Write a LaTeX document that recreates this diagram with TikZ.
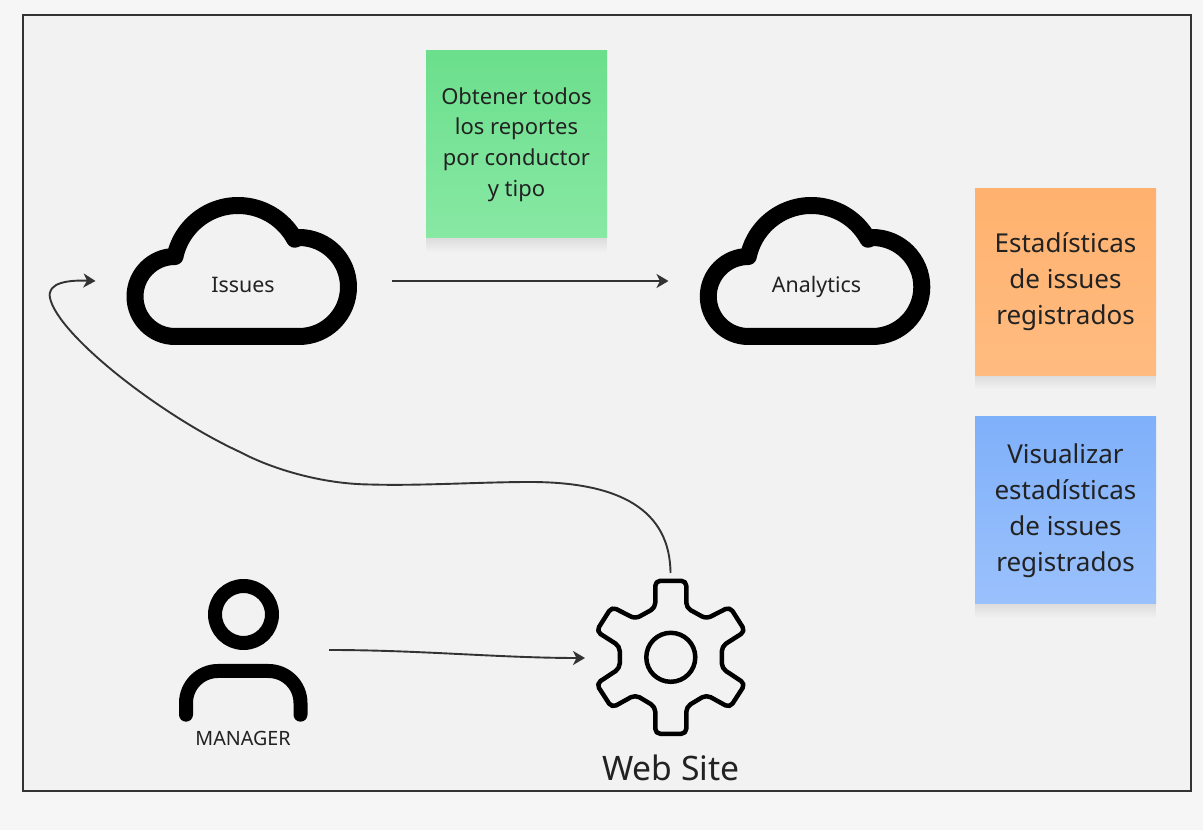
\documentclass[tikz,border=0pt]{standalone}
\usepackage{fontspec}
\setmainfont{Noto Sans}
\usetikzlibrary{arrows.meta,shadows}

\definecolor{pagebg}{HTML}{F6F6F6}
\definecolor{boardbg}{HTML}{F2F2F2}
\definecolor{inkgray}{HTML}{333333}
\definecolor{textgray}{HTML}{222222}
\definecolor{noteGreenTop}{HTML}{6BDF8C}
\definecolor{noteGreenBot}{HTML}{88E8A4}
\definecolor{noteOrangeTop}{HTML}{FFB26F}
\definecolor{noteOrangeBot}{HTML}{FFBB80}
\definecolor{noteBlueTop}{HTML}{7FB0FA}
\definecolor{noteBlueBot}{HTML}{9BC1FC}

\tikzset{
  softlayer/.style={general shadow={shadow yshift=-#1pt, fill=black, fill opacity=.012}},
  softshadow/.style={softlayer=14, softlayer=12, softlayer=10, softlayer=8,
    softlayer=6, softlayer=4, softlayer=2},
  sticky/.style={rectangle, minimum width=181pt, minimum height=187pt, inner sep=0pt,
    align=center, text=textgray, softshadow},
  flow/.style={draw=inkgray, line width=1.9pt, -{Stealth[length=12pt,width=14pt,inset=3.5pt]}},
  iconline/.style={draw=black, line join=round},
  label/.style={text=textgray, inner sep=0pt},
  cloudicon/.pic={
    \draw[iconline, line width=17pt] (-67,-65.5) arc (270:90:40)
      arc (167.9:28.5:64.5) -- (57,33.5) arc (90:-90:49.5) -- cycle;
  }
}

\begin{document}
\begin{tikzpicture}[x=1pt, y=1pt]
  \useasboundingbox (0,0) rectangle (1203,830);
  \fill[pagebg] (0,0) rectangle (1203,830);
  \draw[fill=boardbg, draw=inkgray, line width=2pt] (23,39) rectangle (1191,815);

  % clouds
  \pic at (242,559) {cloudicon};
  \pic at (815.3,559) {cloudicon};
  \node[label, anchor=base, font=\fontsize{21.4}{25}\selectfont] (issues)    at (243,537) {Issues};
  \node[label, anchor=base, font=\fontsize{21.4}{25}\selectfont] (analytics) at (816.5,537) {Analytics};

  % manager
  \draw[iconline, line width=14pt] (243.5,215.5) circle (28.5);
  \draw[iconline, line width=14pt, line cap=round, rounded corners=32pt]
    (186,115.3) -- (186,159) -- (300.5,159) -- (300.5,115.3);
  \node[label, font=\fontsize{19.7}{23}\selectfont] (manager) at (243,91.7) {MANAGER};

  % web site
  \begin{scope}[shift={(670.8,172.7)}]
    \draw[iconline, line width=4.5pt, rounded corners=5pt]
      (0,76.5) -- (15.5,76.5) -- (15.5,49.5) -- (35.5,38.5) -- (59,50.5) -- (74.5,26)
      -- (51,11) -- (51,-11) -- (74.5,-26.5) -- (59,-50.5) -- (35.5,-37.5) -- (15.5,-49.5)
      -- (15.5,-76.5) -- (-15.5,-76.5) -- (-15.5,-49.5) -- (-35.5,-37.5) -- (-59,-50.5)
      -- (-74.5,-26.5) -- (-51,-11) -- (-51,11) -- (-74.5,26) -- (-59,50.5) -- (-35.5,38.5)
      -- (-15.5,49.5) -- (-15.5,76.5) -- cycle;
    \draw[iconline, line width=4.5pt] (0,0) circle (24.5);
  \end{scope}
  \node[label, font=\fontsize{33.7}{40}\selectfont] (site) at (671,62) {Web Site};

  % notes
  \node[sticky, top color=noteGreenTop, bottom color=noteGreenBot,
    font=\fontsize{22}{30.6}\selectfont] (reportes) at (516.5,685.5)
    {Obtener todos\\los reportes\\por conductor\\y tipo};
  \node[sticky, top color=noteOrangeTop, bottom color=noteOrangeBot,
    font=\fontsize{26}{36}\selectfont] (estadisticas) at (1065.5,548)
    {Estadísticas\\de issues\\registrados};
  \node[sticky, top color=noteBlueTop, bottom color=noteBlueBot,
    font=\fontsize{26}{36}\selectfont] (visualizar) at (1065.5,319.5)
    {Visualizar\\estadísticas\\de issues\\registrados};

  % connector ends
  \coordinate (issuesOut)   at (392,549);
  \coordinate (analyticsIn) at (668.5,549);
  \coordinate (managerOut)  at (329,180);
  \coordinate (siteIn)      at (585,172);
  \coordinate (siteOut)     at (670.5,257);
  \coordinate (issuesIn)    at (95.5,549);

  \draw[flow] (issuesOut) -- (analyticsIn);
  \draw[flow] (managerOut) .. controls (420,180) and (500,172) .. (siteIn);
  \draw[flow] (siteOut) .. controls (670,320) and (620,348) .. (530,348)
    .. controls (480,348) and (420,344) .. (370,345.5)
    .. controls (320,346) and (270,362) .. (240,378)
    .. controls (160,415) and (58,495) .. (50,532)
    .. controls (46.5,548) and (70,550) .. (issuesIn);
\end{tikzpicture}
\end{document}
